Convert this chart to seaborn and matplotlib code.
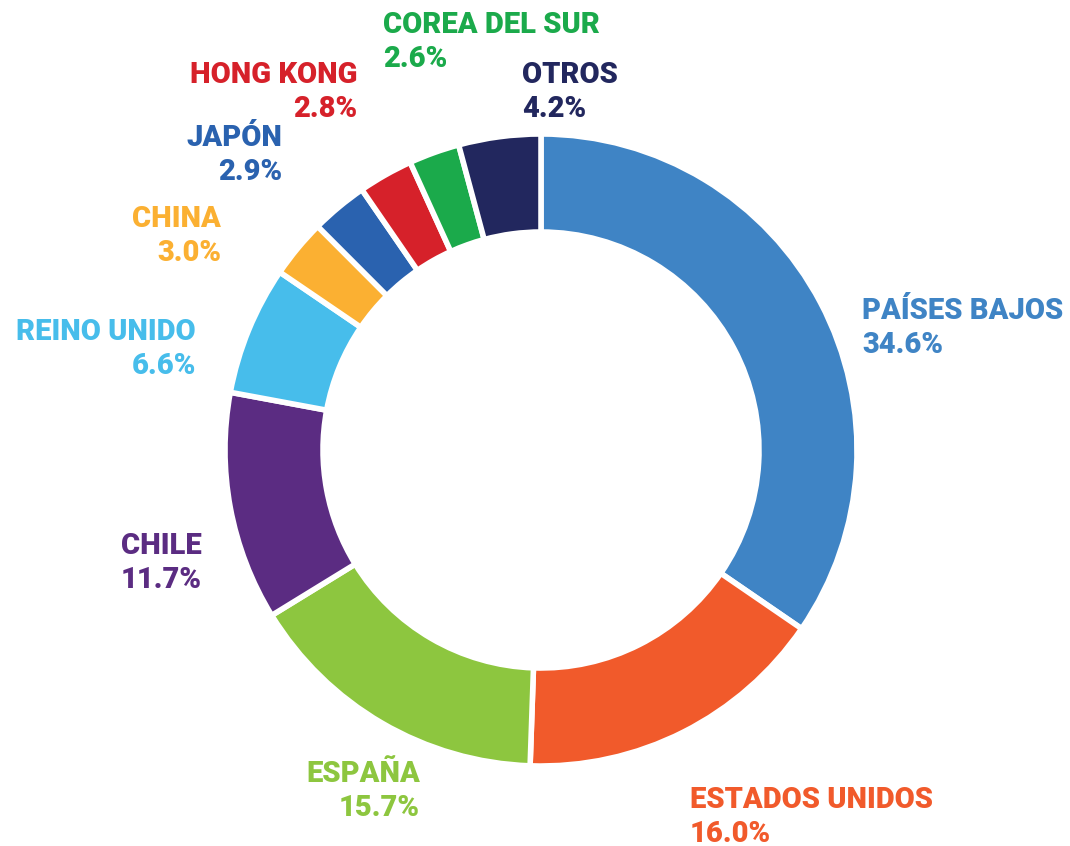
import matplotlib
matplotlib.use("Agg")
import matplotlib.pyplot as plt
import seaborn as sns

countries = ["PAÍSES BAJOS", "ESTADOS UNIDOS", "ESPAÑA", "CHILE", "REINO UNIDO",
             "CHINA", "JAPÓN", "HONG KONG", "COREA DEL SUR", "OTROS"]
shares = [34.6, 16.0, 15.7, 11.7, 6.6, 3.0, 2.9, 2.8, 2.6, 4.2]
pct_labels = ["34.6%", "16.0%", "15.7%", "11.7%", "6.6%", "3.0%", "2.9%", "2.8%", "2.6%", "4.2%"]
colors = ["#3F84C5", "#F15A2B", "#8DC63F", "#5B2C82", "#47BDEB",
          "#FBB032", "#2A62AF", "#D6212A", "#1BAA4B", "#22275E"]

sns.set_theme(style="white")
plt.rcParams['font.family'] = ['Roboto', 'DejaVu Sans']
palette = sns.color_palette(colors)

W, H = 1070, 846
fig = plt.figure(figsize=(W / 100, H / 100), dpi=100)
ax = fig.add_axes([0, 0, 1, 1])
ax.set_xlim(0, W)
ax.set_ylim(0, H)
ax.axis("off")

cx, cy = 541, H - 450
R = 316
ax.pie(shares, colors=palette, startangle=90, counterclock=False,
       radius=R, center=(cx, cy),
       wedgeprops=dict(width=98, edgecolor="white", linewidth=4))
ax.set_xlim(0, W)
ax.set_ylim(0, H)
ax.set_aspect("equal")

# label layout: (x, y of first line in pixels from top, alignment)
label_pos = [
    (862, 311, "left"),
    (690, 800, "left"),
    (420, 774, "right"),
    (202, 546, "right"),
    (196, 332, "right"),
    (221, 219, "right"),
    (282, 138, "right"),
    (357, 75, "right"),
    (383, 25, "left"),
    (522, 75, "left"),
]
for name, pct, col, (x, y, ha) in zip(countries, pct_labels, colors, label_pos):
    ax.text(x, H - y, name, color=col, ha=ha, va="center",
            fontsize=21, fontweight="black")
    ax.text(x, H - y - 34, pct, color=col, ha=ha, va="center",
            fontsize=21, fontweight="black")

fig.savefig("out.png", dpi=100, facecolor="white")
